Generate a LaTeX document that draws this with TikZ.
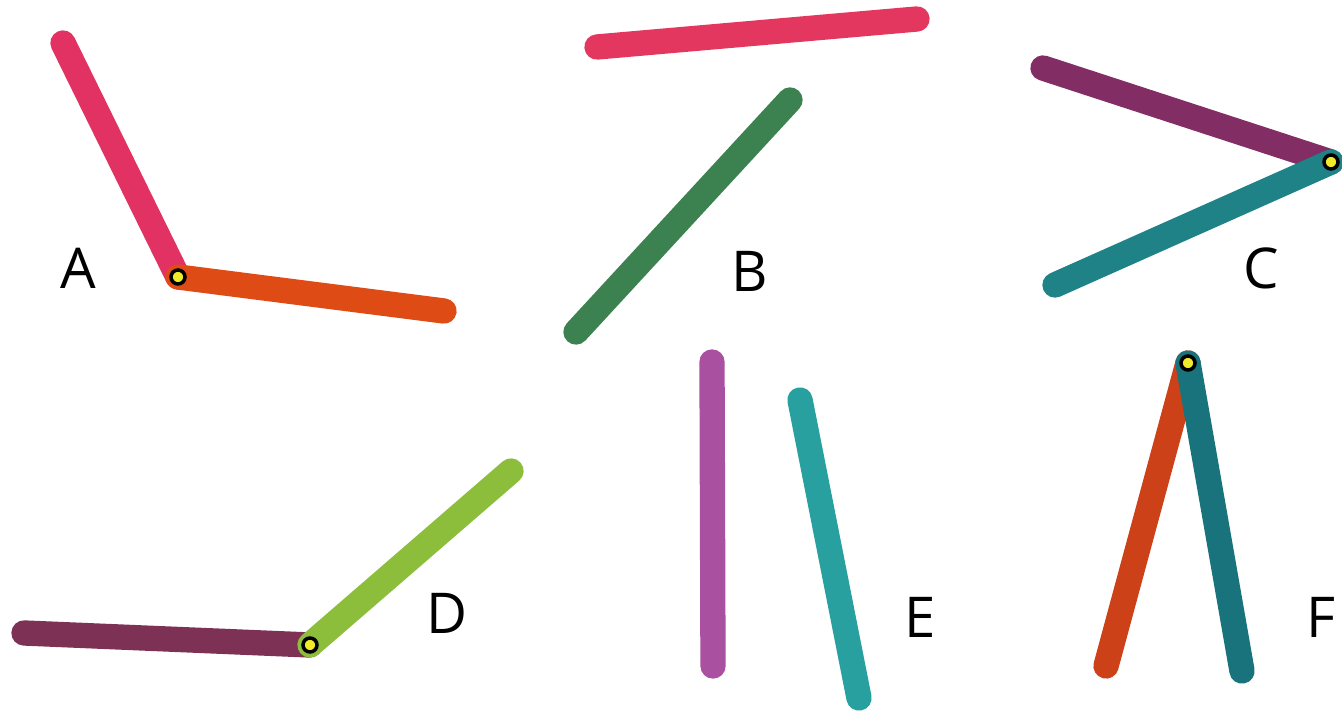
\documentclass[tikz,border=0pt]{standalone}
\usepackage{fontspec}
\setmainfont{Open Sans}
\usepackage{tikz}

\definecolor{stickPinkA}{RGB}{226,50,100}
\definecolor{stickOrangeA}{RGB}{222,75,20}
\definecolor{stickPinkB}{RGB}{228,55,95}
\definecolor{stickGreenB}{RGB}{60,130,80}
\definecolor{stickPurpleC}{RGB}{130,45,100}
\definecolor{stickTealC}{RGB}{30,130,135}
\definecolor{stickPurpleD}{RGB}{125,50,85}
\definecolor{stickGreenD}{RGB}{140,190,60}
\definecolor{stickPurpleE}{RGB}{170,80,160}
\definecolor{stickTealE}{RGB}{40,160,160}
\definecolor{stickOrangeF}{RGB}{205,65,25}
\definecolor{stickTealF}{RGB}{25,115,125}
\definecolor{pinYellow}{RGB}{240,235,40}

\begin{document}
\begin{tikzpicture}[x=0.01cm, y=-0.01cm,
    stick/.style={line width=7.2pt, line cap=round},
    pin/.style={fill=pinYellow, draw=black, line width=1pt},
    letter/.style={font=\fontsize{16}{16}\selectfont}]
    % --- 1. Frame ---
    \useasboundingbox (0,0) rectangle (1342,716);
    % --- 2. Pair A ---
    \coordinate (A1) at (63,43);
    \coordinate (Apin) at (178,277);
    \coordinate (A2) at (444,311);
    \draw[stick, stickPinkA] (A1) -- (Apin);
    \draw[stick, stickOrangeA] (Apin) -- (A2);
    \fill[pin] (Apin) circle (7);
    \node[letter] (labA) at (78,268) {A};
    % --- 3. Pair B ---
    \coordinate (B1) at (597,47);
    \coordinate (B2) at (917,19);
    \coordinate (B3) at (790,100);
    \coordinate (B4) at (576,332);
    \draw[stick, stickPinkB] (B1) -- (B2);
    \draw[stick, stickGreenB] (B3) -- (B4);
    \node[letter] (labB) at (750,271) {B};
    % --- 4. Pair C ---
    \coordinate (C1) at (1043,68);
    \coordinate (Cpin) at (1331,162);
    \coordinate (C2) at (1055,285);
    \draw[stick, stickPurpleC] (C1) -- (Cpin);
    \draw[stick, stickTealC] (C2) -- (Cpin);
    \fill[pin] (Cpin) circle (7);
    \node[letter] (labC) at (1261,268) {C};
    % --- 5. Pair D ---
    \coordinate (D1) at (24,633);
    \coordinate (Dpin) at (310,645);
    \coordinate (D2) at (511,471);
    \draw[stick, stickPurpleD] (D1) -- (Dpin);
    \draw[stick, stickGreenD] (Dpin) -- (D2);
    \fill[pin] (Dpin) circle (7);
    \node[letter] (labD) at (447,613) {D};
    % --- 6. Pair E ---
    \coordinate (E1) at (712,362);
    \coordinate (E2) at (713,666);
    \coordinate (E3) at (800,400);
    \coordinate (E4) at (859,698);
    \draw[stick, stickPurpleE] (E1) -- (E2);
    \draw[stick, stickTealE] (E3) -- (E4);
    \node[letter] (labE) at (920,617) {E};
    % --- 7. Pair F ---
    \coordinate (Fpin) at (1188,363);
    \coordinate (F1) at (1106,666);
    \coordinate (F2) at (1242,671);
    \draw[stick, stickOrangeF] (Fpin) -- (F1);
    \draw[stick, stickTealF] (Fpin) -- (F2);
    \fill[pin] (Fpin) circle (7);
    \node[letter] (labF) at (1321,617) {F};
\end{tikzpicture}
\end{document}
